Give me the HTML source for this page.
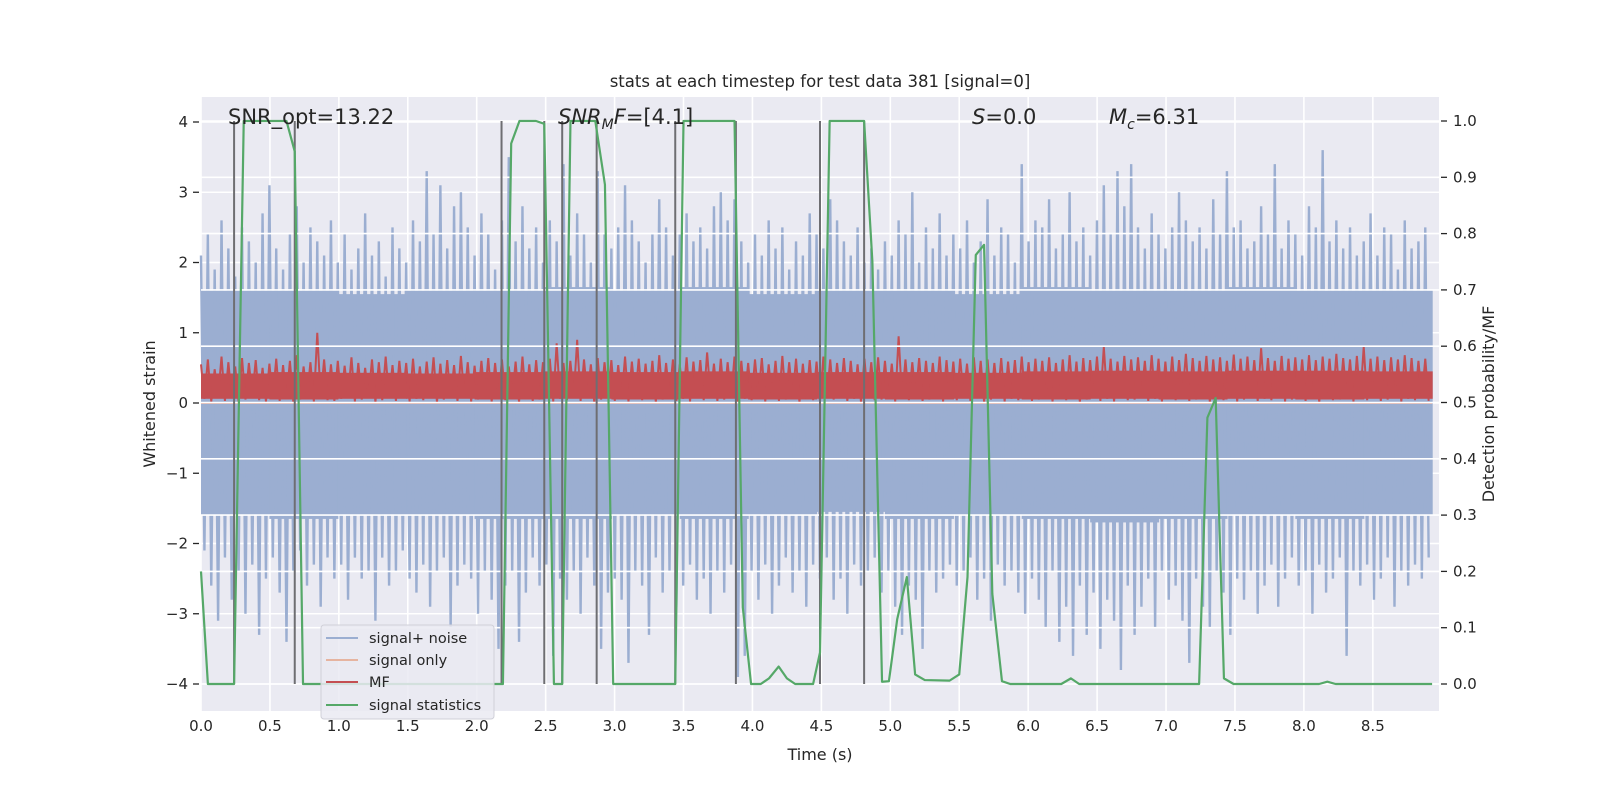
<!DOCTYPE html>
<html><head><meta charset="utf-8"><style>
html,body{margin:0;padding:0;background:#fff;}
svg{display:block;font-family:"DejaVu Sans","Liberation Sans",sans-serif;}
</style></head><body>
<svg id="chart" width="1600" height="800" viewBox="0 0 1600 800" xmlns="http://www.w3.org/2000/svg">
<rect x="0" y="0" width="1600" height="800" fill="#fff"/>
<rect x="201" y="97" width="1238" height="614" fill="#eaeaf2"/>
<g id="g-grid-left"></g>
<g id="g-noise"></g>
<g id="g-signal"></g>
<g id="g-mf"></g>
<g id="g-grid-right"></g>
<g id="g-vlines"></g>
<g id="g-stats"></g>
<g id="g-axes"></g>
<text x="820" y="87" font-size="16.5" text-anchor="middle" fill="#262626">stats at each timestep for test data 381 [signal=0]</text>
<text x="228" y="124" font-size="21" fill="#262626">SNR_opt=13.22</text>
<text x="558" y="124" font-size="21" fill="#262626"><tspan font-style="italic">SNR</tspan><tspan font-style="italic" font-size="14" dy="5">M</tspan><tspan font-style="italic" dy="-5">F</tspan>=[4.1]</text>
<text x="972" y="124" font-size="21" fill="#262626"><tspan font-style="italic">S</tspan>=0.0</text>
<text x="1109" y="124" font-size="21" fill="#262626"><tspan font-style="italic">M</tspan><tspan font-style="italic" font-size="14" dy="5">c</tspan><tspan dy="-5">=6.31</tspan></text>
<text x="820" y="760" font-size="16" text-anchor="middle" fill="#262626">Time (s)</text>
<text x="0" y="0" font-size="16" text-anchor="middle" fill="#262626" transform="translate(155,404) rotate(-90)">Whitened strain</text>
<text x="0" y="0" font-size="16" text-anchor="middle" fill="#262626" transform="translate(1494,404) rotate(-90)">Detection probability/MF</text>
<g>
<rect x="321" y="625" width="173" height="94" rx="3" fill="#eaeaf2" fill-opacity="0.85" stroke="#d0d0d8"/>
<g><line x1="326" y1="638" x2="358" y2="638" stroke="#9baed1" stroke-width="2"/><text x="369" y="643" font-size="14.5" fill="#262626">signal+ noise</text></g>
<g><line x1="326" y1="660" x2="358" y2="660" stroke="#e6b4a0" stroke-width="2"/><text x="369" y="665" font-size="14.5" fill="#262626">signal only</text></g>
<g><line x1="326" y1="682" x2="358" y2="682" stroke="#c44e52" stroke-width="2"/><text x="369" y="687" font-size="14.5" fill="#262626">MF</text></g>
<g><line x1="326" y1="705" x2="358" y2="705" stroke="#55a868" stroke-width="2"/><text x="369" y="710" font-size="14.5" fill="#262626">signal statistics</text></g>
</g>
</svg>
<script>
// ---- data ----
const xTicks = [0,0.5,1,1.5,2,2.5,3,3.5,4,4.5,5,5.5,6,6.5,7,7.5,8,8.5];
const xTickLabels = ["0.0","0.5","1.0","1.5","2.0","2.5","3.0","3.5","4.0","4.5","5.0","5.5","6.0","6.5","7.0","7.5","8.0","8.5"];
const yTicksLeft = [-4,-3,-2,-1,0,1,2,3,4];
const yTickLabelsLeft = ["\u22124","\u22123","\u22122","\u22121","0","1","2","3","4"];
const yTicksRight = [0,0.1,0.2,0.3,0.4,0.5,0.6,0.7,0.8,0.9,1.0];
const yTickLabelsRight = ["0.0","0.1","0.2","0.3","0.4","0.5","0.6","0.7","0.8","0.9","1.0"];
// dense core envelope of the noise per 0.5 s segment
const noiseCoreHi = [1.6,1.6,1.55,1.6,1.6,1.65,1.6,1.65,1.55,1.6,1.6,1.55,1.65,1.6,1.6,1.65,1.6,1.6];
const noiseCoreLo = [-1.6,-1.65,-1.6,-1.6,-1.65,-1.65,-1.6,-1.65,-1.6,-1.55,-1.65,-1.6,-1.65,-1.7,-1.65,-1.6,-1.65,-1.6];
const mfCoreHi = [0.42,0.44,0.43,0.42,0.44,0.45,0.44,0.45,0.43,0.44,0.44,0.43,0.45,0.46,0.45,0.46,0.46,0.45];
const mfCoreLo = [0.06,0.05,0.06,0.06,0.05,0.06,0.05,0.06,0.05,0.06,0.05,0.06,0.05,0.06,0.05,0.06,0.05,0.06];
const noisePeaks = [2.1,2.4,1.9,2.6,2.2,1.8,2.5,2.3,2.0,2.7,
3.1,2.2,1.9,2.4,2.8,2.0,2.5,2.3,2.1,2.6,
2.0,2.4,1.9,2.2,2.7,2.1,2.3,1.8,2.5,2.2,
2.0,2.6,2.3,3.3,2.4,3.1,2.2,2.8,3.0,2.5,
2.1,2.7,2.4,1.9,2.6,3.5,2.3,2.8,2.2,2.5,
2.0,2.6,2.3,3.4,2.1,2.7,2.4,2.0,3.3,2.4,
2.2,2.5,3.1,2.6,2.3,2.0,2.4,2.9,2.5,2.1,
2.4,2.7,2.3,2.5,2.2,2.8,3.0,2.6,2.9,2.3,
2.0,2.4,2.1,2.6,2.2,2.5,1.9,2.3,2.1,2.7,
2.4,2.2,2.9,2.6,2.3,2.1,2.5,2.0,2.2,1.9,
2.3,2.1,2.6,2.4,3.0,2.0,2.5,2.2,2.7,2.1,
2.4,2.2,2.6,2.0,2.3,2.9,2.1,2.5,2.4,2.0,
3.4,2.3,2.6,2.5,2.9,2.2,2.4,3.0,2.3,2.5,
2.1,2.6,3.1,2.4,3.3,2.8,3.4,2.5,2.2,2.7,
2.4,2.2,2.5,3.0,2.6,2.3,2.5,2.2,2.9,2.4,
3.3,2.5,2.6,2.2,2.3,2.8,2.4,3.4,2.2,2.6,
2.4,2.1,2.8,2.5,3.6,2.3,2.6,2.2,2.5,2.1,
2.3,2.7,2.1,2.5,2.4,1.9,2.6,2.2,2.3,2.5];
const noiseTroughs = [-2.1,-2.6,-3.1,-2.2,-2.8,-2.4,-3.0,-2.3,-3.3,-2.5,
-2.2,-2.7,-3.4,-2.4,-2.1,-2.6,-2.3,-2.9,-2.2,-2.5,
-2.3,-2.8,-2.2,-2.5,-2.4,-3.1,-2.2,-2.6,-2.4,-2.1,
-2.5,-2.7,-2.3,-2.9,-2.4,-2.2,-3.2,-2.6,-2.3,-2.5,
-3.0,-2.4,-2.8,-3.5,-2.6,-2.4,-3.4,-2.7,-2.2,-2.6,
-2.3,-3.6,-2.5,-2.8,-2.4,-3.0,-2.2,-2.6,-3.5,-2.7,
-2.5,-2.8,-3.7,-2.4,-2.6,-3.3,-2.2,-2.7,-2.4,-2.9,
-2.6,-2.3,-2.8,-2.5,-3.0,-2.4,-2.7,-2.3,-3.9,-3.6,
-2.4,-2.8,-2.3,-3.0,-2.6,-2.2,-2.7,-2.4,-2.9,-2.3,
-2.5,-2.2,-2.8,-2.5,-3.0,-2.3,-2.6,-2.4,-2.2,-2.7,
-2.4,-2.9,-3.3,-2.6,-2.8,-3.5,-2.4,-2.7,-2.5,-2.3,
-2.6,-2.4,-2.2,-2.8,-2.5,-3.1,-2.3,-2.6,-2.4,-2.7,
-3.0,-2.5,-2.8,-3.2,-2.4,-3.4,-2.9,-3.6,-2.6,-3.3,
-2.7,-3.5,-2.8,-3.1,-3.8,-2.6,-3.3,-2.9,-2.5,-3.2,
-2.4,-2.8,-2.6,-3.1,-3.7,-2.5,-2.9,-3.2,-2.4,-2.7,
-3.3,-2.5,-2.8,-2.4,-3.0,-2.6,-2.3,-2.9,-2.5,-2.2,
-2.6,-2.4,-3.0,-2.3,-2.7,-2.5,-2.2,-3.6,-2.4,-2.6,
-2.3,-2.8,-2.5,-2.2,-2.9,-2.4,-2.6,-2.3,-2.5,-2.2];
const mfHigh = [0.55,0.62,0.48,0.66,0.58,0.52,0.64,0.57,0.61,0.50,
0.56,0.63,0.54,0.60,0.68,0.52,0.58,1.0,0.62,0.55,
0.60,0.53,0.65,0.57,0.50,0.62,0.58,0.66,0.54,0.60,
0.57,0.63,0.52,0.59,0.65,0.56,0.61,0.54,0.67,0.58,
0.53,0.60,0.64,0.57,0.62,0.52,0.59,0.66,0.55,0.61,
0.58,0.63,0.85,0.57,0.60,0.90,0.62,0.55,0.64,0.58,
0.61,0.54,0.66,0.59,0.63,0.56,0.60,0.68,0.57,0.62,
0.55,0.65,0.59,0.61,0.72,0.56,0.63,0.58,0.66,0.60,
0.57,0.62,0.64,0.55,0.60,0.67,0.58,0.63,0.56,0.61,
0.59,0.66,0.62,0.57,0.64,0.60,0.55,0.63,0.58,0.65,
0.60,0.56,0.95,0.62,0.58,0.64,0.60,0.57,0.66,0.61,
0.59,0.63,0.56,0.65,0.60,0.62,0.57,0.64,0.59,0.61,
0.66,0.58,0.63,0.60,0.65,0.57,0.62,0.68,0.59,0.64,
0.61,0.66,0.80,0.63,0.59,0.67,0.62,0.65,0.60,0.68,
0.63,0.59,0.66,0.61,0.70,0.64,0.60,0.67,0.62,0.65,
0.60,0.69,0.63,0.66,0.61,0.78,0.64,0.60,0.67,0.63,
0.65,0.62,0.68,0.61,0.66,0.63,0.70,0.64,0.62,0.67,
0.80,0.63,0.66,0.61,0.65,0.62,0.68,0.64,0.60,0.63];
const mfLow = [0.06,0.02,0.09,0.03,0.07,0.01,0.05,0.10,0.04,0.02,
0.08,0.03,0.06,0.01,0.05,0.09,0.02,0.07,0.04,0.03,
0.06,0.10,0.02,0.05,0.08,0.01,0.04,0.07,0.03,0.09,
0.02,0.06,0.04,0.08,0.01,0.05,0.07,0.03,0.10,0.02,
0.05,0.08,0.02,0.06,0.04,0.09,0.01,0.07,0.03,0.05,
0.08,0.02,0.06,0.04,0.10,0.03,0.07,0.01,0.05,0.09,
0.03,0.06,0.02,0.08,0.04,0.07,0.01,0.05,0.09,0.03,
0.06,0.02,0.08,0.04,0.10,0.03,0.05,0.07,0.01,0.06,
0.04,0.09,0.02,0.07,0.03,0.05,0.08,0.01,0.06,0.04,
0.02,0.07,0.05,0.09,0.03,0.06,0.01,0.08,0.04,0.05,
0.07,0.02,0.06,0.04,0.09,0.03,0.05,0.08,0.02,0.06,
0.04,0.10,0.03,0.07,0.01,0.05,0.08,0.02,0.06,0.04,
0.09,0.03,0.05,0.07,0.02,0.06,0.04,0.08,0.01,0.05,
0.07,0.03,0.06,0.02,0.09,0.04,0.05,0.08,0.03,0.06,
0.02,0.07,0.04,0.10,0.03,0.05,0.08,0.01,0.06,0.04,
0.09,0.02,0.05,0.07,0.03,0.06,0.04,0.08,0.02,0.05,
0.07,0.03,0.06,0.01,0.09,0.04,0.05,0.08,0.02,0.06,
0.04,0.07,0.03,0.05,0.09,0.02,0.06,0.04,0.08,0.03];
const statTimes = [0,0.05,0.24,0.31,0.62,0.68,0.74,2.19,2.25,2.31,2.43,2.49,2.56,2.62,2.68,2.86,2.93,2.99,3.44,3.50,3.87,3.93,3.99,4.06,4.12,4.19,4.25,4.31,4.44,4.49,4.56,4.81,4.87,4.94,4.99,5.05,5.12,5.18,5.25,5.43,5.50,5.56,5.62,5.68,5.74,5.81,5.87,6.24,6.31,6.37,7.24,7.30,7.36,7.42,7.49,8.11,8.17,8.23,8.93];
const statValues = [0.2,0,0,1,1,0.946,0,0,0.96,1,1,0.995,0,0,1,1,0.887,0,0,1,1,0.136,0,0,0.01,0.031,0.01,0,0,0.056,1,1,0.75,0.004,0.005,0.115,0.19,0.017,0.007,0.006,0.017,0.19,0.762,0.78,0.16,0.005,0,0,0.01,0,0,0.473,0.508,0.01,0,0,0.004,0,0];
const markerTimes = [0.24,0.68,2.18,2.49,2.62,2.87,3.44,3.88,4.49,4.81];

// ---- scales ----
const X0=201, X1=1439, TMAX=8.98, TEND=8.93;
const xS = t => X0 + t*(X1-X0)/TMAX;
const yL = v => 403 - v*70.25;
const yR = p => 684 - p*563;
const NS="http://www.w3.org/2000/svg";
function mk(tag, parent, attrs){const e=document.createElementNS(NS,tag);for(const k in attrs)e.setAttribute(k,attrs[k]);parent.appendChild(e);return e;}

const gGL=document.getElementById('g-grid-left');
xTicks.forEach((t,i)=>{
  const l=mk('line',gGL,{x1:xS(t),x2:xS(t),y1:97,y2:711,stroke:'#fff','stroke-width':1.6});
  
  
});
yTicksLeft.forEach(v=>{
  const l=mk('line',gGL,{x1:X0,x2:X1,y1:yL(v),y2:yL(v),stroke:'#fff','stroke-width':1.6});
  
  
});

// noise: dense core + spikes
const gN=document.getElementById('g-noise');
const segN=noiseCoreHi.length, dtSeg=TEND/segN;
for(let i=0;i<segN;i++){
  const r=mk('rect',gN,{x:xS(i*dtSeg),y:yL(noiseCoreHi[i]),width:xS(dtSeg)-X0+0.6,height:yL(noiseCoreLo[i])-yL(noiseCoreHi[i]),fill:'#9baed1'});
  
  
}
const nB=noisePeaks.length, dtN=TEND/nB;
let pts=[];
for(let i=0;i<nB;i++){pts.push(xS(i*dtN)+','+yL(noisePeaks[i]));pts.push(xS((i+0.5)*dtN)+','+yL(noiseTroughs[i]));}
const pn=mk('polyline',gN,{points:pts.join(' '),fill:'none',stroke:'#9baed1','stroke-width':2.4,'stroke-linejoin':'miter'});



// signal only (flat)
const gS=document.getElementById('g-signal');
const so=mk('line',gS,{x1:xS(0),x2:xS(TEND),y1:yL(0),y2:yL(0),stroke:'#dcb0a8','stroke-width':2});



// MF: dense core + spikes
const gM=document.getElementById('g-mf');
for(let i=0;i<mfCoreHi.length;i++){
  const r=mk('rect',gM,{x:xS(i*dtSeg),y:yL(mfCoreHi[i]),width:xS(dtSeg)-X0+0.6,height:yL(mfCoreLo[i])-yL(mfCoreHi[i]),fill:'#c44e52'});
  
  
}
const mB=mfHigh.length, dtM=TEND/mB;
pts=[];
for(let i=0;i<mB;i++){pts.push(xS(i*dtM)+','+yL(mfHigh[i]));pts.push(xS((i+0.5)*dtM)+','+yL(mfLow[i]));}
const pm=mk('polyline',gM,{points:pts.join(' '),fill:'none',stroke:'#c44e52','stroke-width':2});



// right grid
const gGR=document.getElementById('g-grid-right');
yTicksRight.forEach(p=>{
  const l=mk('line',gGR,{x1:X0,x2:X1,y1:yR(p),y2:yR(p),stroke:'#fff','stroke-width':1.6});
  
  
});

// markers
const gV=document.getElementById('g-vlines');
markerTimes.forEach(t=>{
  const l=mk('line',gV,{x1:xS(t),x2:xS(t),y1:yR(1),y2:yR(0),stroke:'#6e6e72','stroke-width':2});
  
  
});

// stats line
const gSt=document.getElementById('g-stats');
const sp=mk('polyline',gSt,{points:statTimes.map((t,i)=>xS(t)+','+yR(statValues[i])).join(' '),fill:'none',stroke:'#55a868','stroke-width':2.2,'stroke-linejoin':'round'});



// axes ticks and labels
const gA=document.getElementById('g-axes');
xTicks.forEach((t,i)=>{
  const tx=mk('text',gA,{x:xS(t),y:731,'font-size':15,'text-anchor':'middle',fill:'#262626'});
  tx.textContent=xTickLabels[i];
  
  
});
yTicksLeft.forEach((v,i)=>{
  mk('line',gA,{x1:193,x2:199,y1:yL(v),y2:yL(v),stroke:'#262626','stroke-width':1.3});
  const tx=mk('text',gA,{x:188,y:yL(v)+5,'font-size':15,'text-anchor':'end',fill:'#262626'});
  tx.textContent=yTickLabelsLeft[i];
  
  
});
yTicksRight.forEach((p,i)=>{
  mk('line',gA,{x1:1441,x2:1447,y1:yR(p),y2:yR(p),stroke:'#262626','stroke-width':1.3});
  const tx=mk('text',gA,{x:1453,y:yR(p)+5,'font-size':15,'text-anchor':'start',fill:'#262626'});
  tx.textContent=yTickLabelsRight[i];
  
  
});
</script>
</body></html>
